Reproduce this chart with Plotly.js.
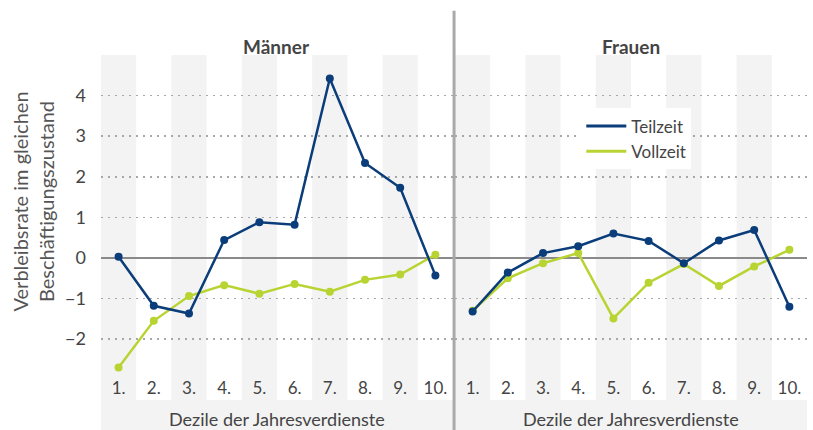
<!DOCTYPE html>
<html>
<head>
<meta charset="utf-8">
<script src="https://cdn.plot.ly/plotly-3.0.1.min.js"></script>
<style>html,body{margin:0;padding:0;background:#fff;}#chart{width:813px;height:430px;}</style>
</head>
<body>
<div id="chart"></div>
<script>
var deciles = ["1.", "2.", "3.", "4.", "5.", "6.", "7.", "8.", "9.", "10."];
var maennerTeilzeit = [0.03, -1.18, -1.37, 0.44, 0.88, 0.82, 4.42, 2.34, 1.73, -0.43];
var maennerVollzeit = [-2.70, -1.55, -0.94, -0.67, -0.88, -0.64, -0.83, -0.54, -0.41, 0.08];
var frauenTeilzeit = [-1.32, -0.36, 0.12, 0.29, 0.60, 0.42, -0.13, 0.43, 0.69, -1.20];
var frauenVollzeit = [-1.30, -0.50, -0.13, 0.12, -1.49, -0.61, -0.15, -0.69, -0.21, 0.20];
var yTicks = [-2, -1, 0, 1, 2, 3, 4];
var panelTitles = ["Männer", "Frauen"];
var seriesNames = ["Teilzeit", "Vollzeit"];
var xTitle = "Dezile der Jahresverdienste";
var yTitle = "Verbleibsrate im gleichen<br>Beschäftigungszustand";

var blue = "#0a3d7a", lime = "#b8d433";
var FONT = "Lato, 'Noto Sans', sans-serif";

function tr(y, xa, ya, name, color) {
  return {x: deciles, y: y, xaxis: xa, yaxis: ya, name: name, type: "scatter", mode: "lines+markers",
    line: {color: color, width: 2.5}, marker: {color: color, size: 8}, showlegend: false, hoverinfo: "x+y"};
}
function legendTrace(name, color) {
  return {x: [deciles[0]], y: [null], xaxis: "x", yaxis: "y", name: name, type: "scatter", mode: "lines",
    line: {color: color, width: 3}, showlegend: true, hoverinfo: "skip"};
}
var data = [
  tr(maennerVollzeit, "x", "y", seriesNames[1], lime),
  tr(maennerTeilzeit, "x", "y", seriesNames[0], blue),
  tr(frauenVollzeit, "x2", "y2", seriesNames[1], lime),
  tr(frauenTeilzeit, "x2", "y2", seriesNames[0], blue),
  legendTrace(seriesNames[0], blue),
  legendTrace(seriesNames[1], lime)
];

var bandColor = "#f3f3f3";
var shapes = [];
["x", "x2"].forEach(function (xr) {
  deciles.forEach(function (d, i) {
    if (i % 2 === 0) {
      shapes.push({type: "rect", xref: xr, yref: "paper", x0: i - 0.5, x1: i + 0.5, y0: 0, y1: 1,
        fillcolor: bandColor, line: {width: 0}, layer: "below"});
    }
  });
  shapes.push({type: "rect", xref: xr + " domain", yref: "paper", x0: 0, x1: 1, y0: -0.087, y1: 0,
    fillcolor: bandColor, line: {width: 0}, layer: "below"});
});
shapes.push({type: "line", xref: "paper", yref: "paper", x0: 0.5585, x1: 0.5585, y0: -0.09, y1: 1.128,
  line: {color: "#a9a9a9", width: 3}, layer: "above"});

var yax = {range: [-3.5, 5.0], tickvals: yTicks, showgrid: true, gridcolor: "#a8a8a8", griddash: "2px,5px", gridwidth: 1.5,
  zeroline: true, zerolinecolor: "#8a8a8a", zerolinewidth: 1.2, showline: false, ticks: "", fixedrange: true,
  ticklabelstandoff: 14, tickfont: {size: 18, color: "#444", family: FONT}};
var xax = {type: "category", showgrid: false, zeroline: false, showline: false, ticks: "",
  ticklabelposition: "inside", tickfont: {size: 17, color: "#444", family: FONT}, range: [-0.5, 9.5]};

var layout = {
  width: 813, height: 430,
  margin: {l: 0, r: 0, t: 55, b: 30},
  paper_bgcolor: "#fff", plot_bgcolor: "rgba(0,0,0,0)",
  font: {family: FONT, color: "#444"},
  xaxis: Object.assign({}, xax, {domain: [0.1242, 0.5572], anchor: "y"}),
  xaxis2: Object.assign({}, xax, {domain: [0.5597, 0.9926], anchor: "y2"}),
  yaxis: Object.assign({}, yax, {anchor: "x", automargin: false}),
  yaxis2: Object.assign({}, yax, {anchor: "x2", showticklabels: false, matches: "y"}),
  shapes: shapes,
  showlegend: true,
  legend: {x: 0.715, y: 0.845, xanchor: "left", yanchor: "top", bgcolor: "#fff", borderwidth: 0,
    font: {size: 17, color: "#444", family: FONT}, tracegroupgap: 0, itemwidth: 40, entrywidth: 130},
  annotations: [
    {text: "<b>" + panelTitles[0] + "</b>", xref: "x domain", yref: "paper", x: 0.5, y: 1, yshift: 22, showarrow: false,
      font: {size: 19, color: "#444", family: FONT}},
    {text: "<b>" + panelTitles[1] + "</b>", xref: "x2 domain", yref: "paper", x: 0.5, y: 1, yshift: 22, showarrow: false,
      font: {size: 19, color: "#444", family: FONT}},
    {text: xTitle, xref: "x domain", yref: "paper", x: 0.5, y: 0, yshift: -19, yanchor: "middle", showarrow: false,
      font: {size: 18, color: "#444", family: FONT}},
    {text: xTitle, xref: "x2 domain", yref: "paper", x: 0.5, y: 0, yshift: -19, yanchor: "middle", showarrow: false,
      font: {size: 18, color: "#444", family: FONT}},
    {text: yTitle, xref: "paper", yref: "paper", x: 0.04, y: 0.574, xanchor: "center", yanchor: "middle",
      textangle: -90, showarrow: false, font: {size: 20, color: "#555", family: FONT}}
  ]
};
Plotly.newPlot("chart", data, layout, {displayModeBar: false, staticPlot: true});
</script>
</body>
</html>
